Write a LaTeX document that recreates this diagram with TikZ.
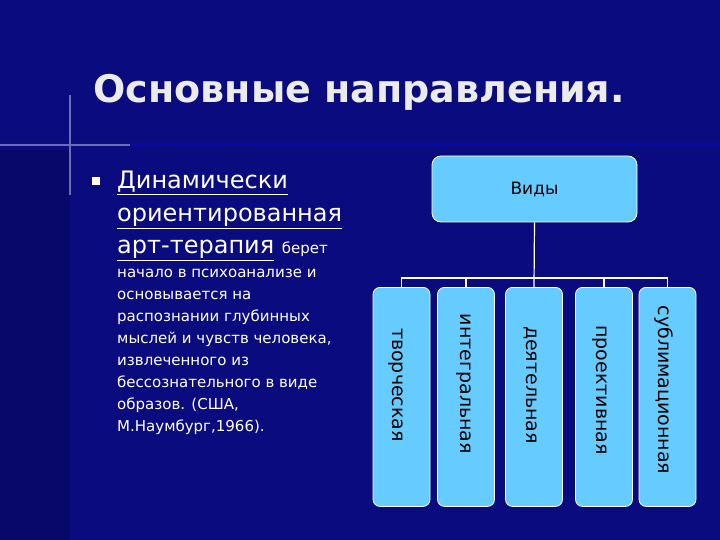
\documentclass[tikz,border=0pt]{standalone}
\usepackage{fontspec}
\setmainfont{DejaVu Sans}
\usetikzlibrary{positioning}
\definecolor{bg}{HTML}{0B0B80}
\definecolor{bgl}{HTML}{08086A}
\definecolor{boxc}{HTML}{66CCFF}
\tikzset{
  kind/.style={draw=white, line width=0.8pt, fill=boxc, rounded corners=7pt, minimum width=57pt, minimum height=219pt, anchor=north, inner sep=0pt},
  kindtxt/.style={rotate=-90, font=\fontsize{19}{19}\selectfont, text=black},
  big/.style={anchor=base west, text=white, inner sep=0pt, font=\fontsize{24}{24}\selectfont},
  small/.style={anchor=base west, text=white, inner sep=0pt, font=\fontsize{15}{15}\selectfont},
  conn/.style={draw=white, line width=1.2pt}
}
\begin{document}
\begin{tikzpicture}[x=1pt,y=-1pt]
\useasboundingbox (0,0) rectangle (720,540);
\fill[bg] (0,0) rectangle (720,540);
\fill[bgl] (0,150) rectangle (70,540);
\fill[blue!35!bg] (0,143.5) rectangle (720,146.5);
\fill[bg!60!white] (0,144.3) rectangle (130,145.7);
\fill[bg!60!white] (69.3,95) rectangle (70.7,195);
\node[anchor=west, text=white!92!black, font=\fontsize{38}{38}\selectfont\bfseries] (title) at (90,92) {Основные направления.};
\node[fill=white!90!yellow, minimum size=8pt, inner sep=0pt] (bul) at (96,181) {};
\node[big] (l1) at (117,189) {\underline{Динамически}};
\node[big] (l2) at (117,222) {\underline{ориентированная}};
\node[big] (l3) at (117,254) {\underline{арт-терапия} {\fontsize{15}{15}\selectfont берет}};
\node[small] (s1) at (117,277) {начало в психоанализе и};
\node[small] (s2) at (117,299) {основывается на};
\node[small] (s3) at (117,321) {распознании глубинных};
\node[small] (s4) at (117,343) {мыслей и чувств человека,};
\node[small] (s5) at (117,365) {извлеченного из};
\node[small] (s6) at (117,387) {бессознательного в виде};
\node[small] (s7) at (117,409) {образов. (США,};
\node[small] (s8) at (117,431) {М.Наумбург,1966).};
\node[draw=white, line width=0.8pt, fill=boxc, rounded corners=9pt, minimum width=205pt, minimum height=66pt, inner sep=0pt, font=\fontsize{17}{17}\selectfont, text=black] (vid) at (534.5,189) {Виды};
\node[kind] (k1) at (401.5,287) {};
\node[kind] (k2) at (466,287) {};
\node[kind] (k3) at (534,287) {};
\node[kind] (k4) at (604,287) {};
\node[kind] (k5) at (667.5,287) {};
\node[kindtxt] at (396,385) {творческая};
\node[kindtxt] at (464,384) {интегральная};
\node[kindtxt] at (531,385) {деятельная};
\node[kindtxt] at (600,390) {проективная};
\node[kindtxt] at (664,390) {сублимационная};
\coordinate (h) at (534,278);
\draw[conn] (vid.south) -- (k3.north);
\draw[conn] (k1.north) |- (h) -| (k5.north);
\draw[conn] (k2.north) -- (k2.north |- h);
\draw[conn] (k4.north) -- (k4.north |- h);
\end{tikzpicture}
\end{document}
